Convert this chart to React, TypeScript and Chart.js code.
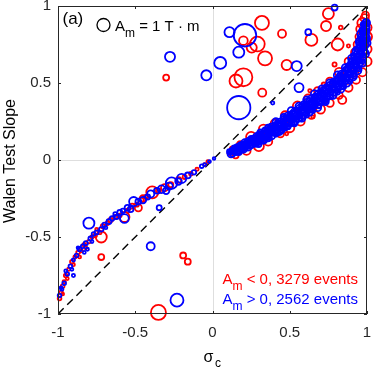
import React, { useEffect, useRef } from "react";
import { Chart, registerables } from "chart.js";
Chart.register(...registerables);

// axis ticks
const xTicks = [-1, -0.5, 0, 0.5, 1];
const yTicks = [-1, -0.5, 0, 0.5, 1];
const xTickLabels = ["-1", "-0.5", "0", "0.5", "1"];
const yTickLabels = ["-1", "-0.5", "0", "0.5", "1"];

// [sigma_c, Walen slope, |A_m| (T·m)] — A_m < 0 events (red)
const redOutliers = [
  [0.32, 0.89, 1.16], [0.45, 0.82, 0.38], [0.2, 0.775, 0.45], [0.254, 0.73, 0.6],
  [0.29, 0.753, 1.3], [0.34, 0.66, 1.16], [0.48, 0.617, 0.6], [0.2, 0.537, 1.9],
  [0.152, 0.513, 1.0], [0.322, 0.437, 0.38], [0.75, 0.95, 0.72], [0.735, 0.87, 0.6],
  [0.64, 0.78, 0.85], [0.81, 0.75, 0.85], [0.84, 0.39, 0.38], [0.83, 0.86, 0.08],
  [0.88, 0.74, 0.06], [0.63, 0.45, 0.06], [0.48, 0.17, 0.06], [0.65, 0.28, 0.06],
  [-0.3, 0.535, 0.21], [-0.19, -0.62, 0.21], [-0.16, -0.66, 0.21], [-0.35, -0.99, 1.33],
  [-0.72, -0.5, 0.72], [-0.72, -0.63, 0.21],
];
const redNegBand = [
  [-0.99, -0.9, 0.08], [-0.98, -0.86, 0.08], [-0.97, -0.82, 0.08], [-0.96, -0.79, 0.06],
  [-0.95, -0.75, 0.08], [-0.93, -0.71, 0.06], [-0.91, -0.66, 0.08], [-0.89, -0.63, 0.06],
  [-0.87, -0.6, 0.08], [-0.85, -0.59, 0.06], [-0.83, -0.55, 0.08], [-0.8, -0.53, 0.08],
  [-0.78, -0.5, 0.06], [-0.76, -0.49, 0.08], [-0.73, -0.47, 0.08], [-0.71, -0.43, 0.1],
  [-0.68, -0.41, 0.08], [-0.66, -0.39, 0.12], [-0.63, -0.37, 0.1], [-0.6, -0.36, 0.08],
  [-0.57, -0.37, 0.6], [-0.55, -0.33, 0.1], [-0.52, -0.3, 0.15], [-0.49, -0.29, 0.1],
  [-0.48, -0.31, 0.3], [-0.46, -0.26, 0.12], [-0.45, -0.25, 0.25], [-0.43, -0.24, 0.1],
  [-0.39, -0.21, 0.85], [-0.35, -0.2, 0.15], [-0.31, -0.18, 0.3], [-0.27, -0.16, 0.15],
  [-0.22, -0.13, 0.2], [-0.18, -0.11, 0.1], [-0.14, -0.09, 0.08], [-0.1, -0.06, 0.06],
  [-0.05, -0.03, 0.05], [-0.03, -0.01, 0.05], [-0.97, -0.87, 0.05], [-0.94, -0.77, 0.05],
  [-0.9, -0.68, 0.05], [-0.86, -0.63, 0.05], [-0.82, -0.57, 0.05], [-0.75, -0.45, 0.05],
];
const redPosBand = [
  [0.11, 0.044, 0.08], [0.13, 0.07, 0.2], [0.18, 0.1, 0.3], [0.25, 0.15, 0.6],
  [0.33, 0.2, 0.5], [0.4, 0.24, 0.3], [0.47, 0.29, 0.4], [0.55, 0.35, 0.5],
  [0.62, 0.4, 0.4], [0.68, 0.45, 0.3], [0.72, 0.49, 0.1], [0.76, 0.51, 0.35],
  [0.79, 0.62, 0.1], [0.82, 0.57, 0.45], [0.88, 0.64, 0.35], [0.92, 0.7, 0.3],
  [0.94, 0.75, 0.4], [0.95, 0.8, 0.35], [0.96, 0.85, 0.5], [0.97, 0.89, 0.6],
  [0.985, 0.92, 0.4], [0.99, 0.94, 0.3],
  [0.15, 0.03, 0.2], [0.22, 0.06, 0.4], [0.3, 0.09, 0.6], [0.36, 0.12, 0.4],
  [0.44, 0.17, 0.3], [0.5, 0.21, 0.5], [0.57, 0.25, 0.4], [0.64, 0.29, 0.3],
  [0.7, 0.33, 0.45], [0.76, 0.37, 0.35], [0.82, 0.42, 0.3], [0.88, 0.47, 0.4],
  [0.93, 0.52, 0.35], [0.97, 0.57, 0.4], [1.0, 0.64, 0.5], [1.0, 0.72, 0.5],
  [1.0, 0.8, 0.6], [1.0, 0.86, 0.5],
  [0.2, 0.08, 0.3], [0.35, 0.17, 0.4], [0.5, 0.27, 0.5], [0.65, 0.37, 0.5],
  [0.8, 0.48, 0.5], [0.92, 0.62, 0.5], [0.98, 0.76, 0.5],
];

// A_m > 0 events (blue)
const blueOutliers = [
  [0.21, 0.81, 3.0], [0.11, 0.83, 0.6], [0.17, 0.7, 0.72], [0.05, 0.63, 0.85],
  [-0.04, 0.55, 0.6], [0.17, 0.34, 3.2], [0.545, 0.61, 0.6], [0.56, 0.47, 0.48],
  [0.62, 0.83, 0.21], [0.79, 0.99, 0.21], [-0.275, 0.67, 0.6], [0.39, 0.37, 0.06],
  [-0.345, -0.31, 0.15], [-0.4, -0.56, 0.38], [-0.23, -0.91, 1.0], [-0.8, -0.41, 0.72],
];
const blueNegBand = [
  [-0.99, -0.88, 0.08], [-0.975, -0.84, 0.06], [-0.96, -0.8, 0.08], [-0.94, -0.74, 0.08],
  [-0.92, -0.69, 0.08], [-0.9, -0.75, 0.06], [-0.9, -0.65, 0.06], [-0.88, -0.62, 0.08],
  [-0.86, -0.58, 0.1], [-0.84, -0.56, 0.08], [-0.82, -0.54, 0.1], [-0.81, -0.58, 0.06],
  [-0.79, -0.51, 0.1], [-0.77, -0.48, 0.08], [-0.75, -0.47, 0.1], [-0.72, -0.45, 0.12],
  [-0.7, -0.42, 0.1], [-0.67, -0.4, 0.15], [-0.65, -0.38, 0.12], [-0.62, -0.37, 0.1],
  [-0.6, -0.34, 0.15], [-0.57, -0.38, 0.45], [-0.58, -0.33, 0.12], [-0.55, -0.31, 0.2],
  [-0.53, -0.32, 0.2], [-0.51, -0.27, 0.5], [-0.48, -0.27, 0.2], [-0.45, -0.26, 0.25],
  [-0.42, -0.24, 0.15], [-0.4, -0.22, 0.3], [-0.36, -0.2, 0.2], [-0.33, -0.19, 0.35],
  [-0.3, -0.2, 0.25], [-0.28, -0.17, 0.3], [-0.265, -0.15, 0.77], [-0.22, -0.14, 0.25],
  [-0.2, -0.12, 0.5], [-0.16, -0.1, 0.2], [-0.12, -0.08, 0.12], [-0.07, -0.04, 0.08],
  [-0.05, -0.03, 0.06], [-0.02, -0.01, 0.05], [0.01, 0.01, 0.04], [-0.98, -0.83, 0.05],
  [-0.95, -0.72, 0.05], [-0.91, -0.71, 0.05], [-0.87, -0.57, 0.05], [-0.83, -0.6, 0.05],
  [-0.78, -0.53, 0.05], [-0.69, -0.44, 0.05], [-0.63, -0.35, 0.08],
];
const bluePosBand = [
  [0.11, 0.054, 0.15], [0.12, 0.04, 0.3], [0.13, 0.06, 0.25], [0.15, 0.06, 0.4],
  [0.16, 0.08, 0.3], [0.17, 0.05, 0.2], [0.19, 0.09, 0.45], [0.2, 0.07, 0.3],
  [0.21, 0.11, 0.35], [0.23, 0.09, 0.45], [0.24, 0.12, 0.4], [0.25, 0.1, 0.3],
  [0.27, 0.13, 0.5], [0.28, 0.11, 0.35], [0.29, 0.15, 0.4], [0.3, 0.13, 0.5],
  [0.32, 0.16, 0.45], [0.33, 0.13, 0.35], [0.34, 0.18, 0.4], [0.35, 0.16, 0.5],
  [0.37, 0.19, 0.45], [0.38, 0.16, 0.4], [0.39, 0.21, 0.5], [0.4, 0.19, 0.55],
  [0.42, 0.22, 0.5], [0.43, 0.19, 0.45], [0.44, 0.24, 0.5], [0.45, 0.22, 0.55],
  [0.47, 0.26, 0.5], [0.48, 0.23, 0.5], [0.49, 0.28, 0.5], [0.5, 0.25, 0.6],
  [0.52, 0.29, 0.55], [0.53, 0.26, 0.5], [0.54, 0.31, 0.55], [0.55, 0.28, 0.6],
  [0.57, 0.33, 0.55], [0.58, 0.3, 0.6], [0.59, 0.35, 0.5], [0.6, 0.32, 0.6],
  [0.62, 0.37, 0.55], [0.63, 0.34, 0.6], [0.64, 0.39, 0.5], [0.65, 0.36, 0.6],
  [0.67, 0.4, 0.6], [0.68, 0.37, 0.55], [0.69, 0.42, 0.55], [0.7, 0.39, 0.6],
  [0.72, 0.44, 0.6], [0.73, 0.41, 0.55], [0.74, 0.46, 0.55], [0.75, 0.43, 0.6],
  [0.77, 0.48, 0.6], [0.78, 0.45, 0.6], [0.79, 0.5, 0.55], [0.8, 0.47, 0.6],
  [0.82, 0.52, 0.6], [0.83, 0.49, 0.6], [0.84, 0.55, 0.55], [0.85, 0.52, 0.6],
  [0.87, 0.57, 0.6], [0.88, 0.54, 0.6], [0.89, 0.6, 0.55], [0.9, 0.57, 0.6],
  [0.91, 0.63, 0.6], [0.92, 0.6, 0.6], [0.93, 0.66, 0.55], [0.94, 0.63, 0.6],
  [0.95, 0.7, 0.55], [0.96, 0.67, 0.6], [0.96, 0.74, 0.5], [0.97, 0.71, 0.6],
  [0.975, 0.78, 0.5], [0.98, 0.75, 0.55], [0.985, 0.82, 0.45], [0.99, 0.79, 0.5],
  [0.99, 0.86, 0.4], [0.995, 0.89, 0.35], [0.97, 0.84, 0.2], [0.98, 0.88, 0.2],
  [0.25, 0.14, 0.15], [0.31, 0.18, 0.2], [0.36, 0.21, 0.2], [0.41, 0.25, 0.25],
  [0.46, 0.28, 0.2], [0.51, 0.32, 0.3], [0.56, 0.35, 0.3], [0.61, 0.39, 0.3],
  [0.66, 0.43, 0.3], [0.71, 0.46, 0.35], [0.76, 0.5, 0.3], [0.81, 0.55, 0.35],
  [0.86, 0.6, 0.3], [0.9, 0.66, 0.3], [0.93, 0.71, 0.3], [0.95, 0.77, 0.3],
  [0.96, 0.82, 0.3],
  [0.3, 0.1, 0.15], [0.36, 0.14, 0.2], [0.42, 0.18, 0.2], [0.47, 0.21, 0.2],
  [0.53, 0.24, 0.25], [0.58, 0.27, 0.25], [0.63, 0.31, 0.25], [0.68, 0.34, 0.3],
  [0.73, 0.38, 0.3], [0.78, 0.42, 0.3], [0.83, 0.46, 0.3], [0.87, 0.5, 0.3],
  [0.91, 0.54, 0.3], [0.94, 0.58, 0.3], [0.97, 0.63, 0.3], [0.99, 0.69, 0.3],
  [1.0, 0.76, 0.3],
];
// dense small-|A_m| events filling the core of the positive branch
const coreAm = 0.12;
const blueCoreMid = [
  [0.12, 0.05], [0.14, 0.06], [0.16, 0.07], [0.18, 0.08], [0.2, 0.09], [0.22, 0.1],
  [0.24, 0.11], [0.26, 0.12], [0.28, 0.13], [0.3, 0.14], [0.32, 0.152], [0.34, 0.164],
  [0.36, 0.176], [0.38, 0.188], [0.4, 0.2], [0.42, 0.212], [0.44, 0.224], [0.46, 0.236],
  [0.48, 0.25], [0.5, 0.264], [0.52, 0.278], [0.54, 0.292], [0.56, 0.306], [0.58, 0.32],
  [0.6, 0.334], [0.62, 0.348], [0.64, 0.362], [0.66, 0.376], [0.68, 0.39], [0.7, 0.404],
  [0.72, 0.42], [0.74, 0.436], [0.76, 0.452], [0.78, 0.468], [0.8, 0.486], [0.82, 0.505],
  [0.84, 0.525], [0.86, 0.545], [0.88, 0.568], [0.9, 0.592], [0.92, 0.62], [0.94, 0.655],
  [0.96, 0.7], [0.97, 0.735], [0.98, 0.77], [0.99, 0.83], [1.0, 0.89],
];
const blueCoreUp = [
  [0.14, 0.08], [0.18, 0.1], [0.22, 0.12], [0.26, 0.14], [0.3, 0.17], [0.34, 0.197],
  [0.38, 0.222], [0.42, 0.246], [0.46, 0.27], [0.5, 0.298], [0.54, 0.326], [0.58, 0.355],
  [0.62, 0.383], [0.66, 0.411], [0.7, 0.445], [0.74, 0.478], [0.78, 0.51], [0.82, 0.548],
  [0.86, 0.59], [0.88, 0.615], [0.9, 0.645], [0.91, 0.68], [0.93, 0.72], [0.945, 0.76],
  [0.955, 0.8], [0.965, 0.84], [0.975, 0.88],
];
const blueCoreLow = [
  [0.13, 0.035], [0.17, 0.055], [0.21, 0.075], [0.25, 0.095], [0.29, 0.11], [0.33, 0.125],
  [0.37, 0.145], [0.41, 0.166], [0.45, 0.19], [0.49, 0.215], [0.53, 0.24], [0.57, 0.265],
  [0.61, 0.29], [0.65, 0.32], [0.69, 0.35], [0.73, 0.38], [0.77, 0.41], [0.81, 0.44],
  [0.85, 0.475], [0.89, 0.51], [0.92, 0.545], [0.95, 0.59], [0.97, 0.64], [0.99, 0.7],
  [1.0, 0.78], [1.0, 0.84],
];
const blueCoreMidUp = [
  [0.13, 0.065], [0.15, 0.078], [0.17, 0.088], [0.19, 0.098], [0.21, 0.108], [0.23, 0.118],
  [0.25, 0.13], [0.27, 0.14], [0.29, 0.15], [0.31, 0.163], [0.33, 0.176], [0.35, 0.188],
  [0.37, 0.2], [0.39, 0.212], [0.41, 0.224], [0.43, 0.236], [0.45, 0.248], [0.47, 0.261],
  [0.49, 0.275], [0.51, 0.289], [0.53, 0.303], [0.55, 0.317], [0.57, 0.331], [0.59, 0.345],
  [0.61, 0.359], [0.63, 0.373], [0.65, 0.389], [0.67, 0.403], [0.69, 0.417], [0.71, 0.434],
  [0.73, 0.45], [0.75, 0.466], [0.77, 0.483], [0.79, 0.5], [0.81, 0.52], [0.83, 0.54],
  [0.85, 0.56], [0.87, 0.583], [0.89, 0.608], [0.91, 0.636], [0.93, 0.67], [0.94, 0.715],
  [0.95, 0.74], [0.96, 0.78], [0.97, 0.82], [0.98, 0.86], [0.99, 0.9],
];
const blueCoreMidLow = [
  [0.15, 0.047], [0.17, 0.057], [0.19, 0.067], [0.21, 0.077], [0.23, 0.087], [0.25, 0.097],
  [0.27, 0.107], [0.29, 0.117], [0.31, 0.128], [0.33, 0.14], [0.35, 0.152], [0.37, 0.164],
  [0.39, 0.176], [0.41, 0.188], [0.43, 0.2], [0.45, 0.212], [0.47, 0.225], [0.49, 0.239],
  [0.51, 0.253], [0.53, 0.267], [0.55, 0.281], [0.57, 0.295], [0.59, 0.309], [0.61, 0.323],
  [0.63, 0.337], [0.65, 0.351], [0.67, 0.365], [0.69, 0.379], [0.71, 0.394], [0.73, 0.41],
  [0.75, 0.426], [0.77, 0.442], [0.79, 0.459], [0.81, 0.477], [0.83, 0.495], [0.85, 0.513],
  [0.87, 0.533], [0.89, 0.555], [0.91, 0.58], [0.93, 0.607], [0.95, 0.64], [0.965, 0.68],
  [0.975, 0.72], [0.985, 0.76], [0.995, 0.8], [1.0, 0.86],
];

const diagonal = [[-1, -1], [1, 1]];
const referenceAm = 1; // legend marker: A_m = 1 T·m

const RED = "#ff0000";
const BLUE = "#0000ff";
const TXT = "#262626";
const FONT = "'Liberation Sans', Arial, Helvetica, sans-serif";
const R_UNIT = 6.5;

const toPts = (arr: number[][]) => arr.map(([x, y, am]) => ({ x, y, am }));
const corePts = (arr: number[][]) => arr.map(([x, y]) => ({ x, y, am: coreAm }));
const radiusOf = (am: number) => Math.max(1, R_UNIT * Math.sqrt(Math.abs(am)));

function drawSub(ctx: CanvasRenderingContext2D, x: number, y: number, main: string, sub: string, rest: string, color: string) {
  ctx.fillStyle = color;
  ctx.textAlign = "left";
  ctx.textBaseline = "alphabetic";
  ctx.font = `15px ${FONT}`;
  ctx.fillText(main, x, y);
  let cx = x + ctx.measureText(main).width;
  ctx.font = `12px ${FONT}`;
  ctx.fillText(sub, cx, y + 6);
  cx += ctx.measureText(sub).width;
  ctx.font = `15px ${FONT}`;
  ctx.fillText(rest, cx, y);
}

const decor = {
  id: "decor",
  beforeDatasetsDraw(chart: any) {
    const { ctx, chartArea: a, scales } = chart;
    const x0 = Math.round(scales.x.getPixelForValue(0)) + 0.5;
    const y0 = Math.round(scales.y.getPixelForValue(0)) + 0.5;
    ctx.save();
    ctx.strokeStyle = "#dedede";
    ctx.lineWidth = 1;
    ctx.beginPath();
    ctx.moveTo(x0, a.top);
    ctx.lineTo(x0, a.bottom);
    ctx.moveTo(a.left, y0);
    ctx.lineTo(a.right, y0);
    ctx.stroke();
    ctx.restore();
  },
  afterDatasetsDraw(chart: any) {
    const { ctx, chartArea: a, scales } = chart;
    ctx.save();
    ctx.strokeStyle = TXT;
    ctx.lineWidth = 1;
    ctx.strokeRect(Math.round(a.left) + 0.5, Math.round(a.top) + 0.5, Math.round(a.right - a.left) - 1, Math.round(a.bottom - a.top) - 1);
    const tl = 3;
    ctx.beginPath();
    xTicks.forEach((v) => {
      const px = Math.round(scales.x.getPixelForValue(v)) + 0.5;
      ctx.moveTo(px, a.bottom);
      ctx.lineTo(px, a.bottom - tl);
      ctx.moveTo(px, a.top);
      ctx.lineTo(px, a.top + tl);
    });
    yTicks.forEach((v) => {
      const py = Math.round(scales.y.getPixelForValue(v)) + 0.5;
      ctx.moveTo(a.left, py);
      ctx.lineTo(a.left + tl, py);
      ctx.moveTo(a.right, py);
      ctx.lineTo(a.right - tl, py);
    });
    ctx.stroke();

    ctx.fillStyle = "#000";
    ctx.font = `17px ${FONT}`;
    ctx.textAlign = "left";
    ctx.textBaseline = "alphabetic";
    ctx.fillText("(a)", a.left + 4.5, a.top + 18);

    ctx.strokeStyle = "#000";
    ctx.lineWidth = 1.3;
    ctx.beginPath();
    ctx.arc(a.left + 45.5, a.top + 19, radiusOf(referenceAm), 0, Math.PI * 2);
    ctx.stroke();
    drawSub(ctx, a.left + 57, a.top + 25, "A", "m", " = 1 T · m", "#000");

    drawSub(ctx, a.left + 164.5, a.top + 277.5, "A", "m", " < 0, 3279 events", RED);
    drawSub(ctx, a.left + 164.5, a.top + 297.5, "A", "m", " > 0, 2562 events", BLUE);

    ctx.fillStyle = "#000";
    ctx.font = `16px ${FONT}`;
    ctx.textAlign = "left";
    const cx = (a.left + a.right) / 2;
    ctx.fillText("σ", cx - 9, 361.5);
    ctx.font = `12px ${FONT}`;
    ctx.fillText("c", cx + 2.5, 366.5);

    ctx.save();
    ctx.translate(15, (a.top + a.bottom) / 2 + 1);
    ctx.rotate(-Math.PI / 2);
    ctx.font = `16px ${FONT}`;
    ctx.textAlign = "center";
    ctx.fillText("Walen Test Slope", 0, 0);
    ctx.restore();

    ctx.restore();
  },
};

export default function App() {
  const ref = useRef<HTMLCanvasElement | null>(null);
  useEffect(() => {
    if (!ref.current) return;
    const pointOpts = (color: string, order: number, data: any[]) => ({
      type: "scatter" as const,
      data,
      order,
      clip: false as any,
      showLine: false,
      borderColor: color,
      backgroundColor: "transparent",
      pointBorderColor: color,
      pointBackgroundColor: "transparent",
      pointBorderWidth: 1.8,
      pointRadius: (c: any) => radiusOf(c.raw ? c.raw.am : 0.1),
      pointHoverRadius: (c: any) => radiusOf(c.raw ? c.raw.am : 0.1),
    });
    const chart = new Chart(ref.current, {
      type: "scatter",
      data: {
        datasets: [
          pointOpts(BLUE, 0, [
            ...corePts(blueCoreMid), ...corePts(blueCoreUp), ...corePts(blueCoreLow),
            ...corePts(blueCoreMidUp), ...corePts(blueCoreMidLow),
            ...toPts(bluePosBand), ...toPts(blueNegBand), ...toPts(blueOutliers),
          ]),
          pointOpts(RED, 1, [...toPts(redPosBand), ...toPts(redNegBand), ...toPts(redOutliers)]),
          {
            type: "line" as const,
            data: diagonal.map(([x, y]) => ({ x, y })),
            order: 2,
            borderColor: "#000",
            borderWidth: 1.4,
            borderDash: [8, 5],
            pointRadius: 0,
            fill: false,
          } as any,
        ],
      },
      options: {
        animation: false,
        responsive: false,
        maintainAspectRatio: false,
        events: [],
        layout: { autoPadding: false, padding: { top: 6, right: 7, left: 0, bottom: 0 } },
        plugins: { legend: { display: false }, tooltip: { enabled: false } },
        scales: {
          x: {
            type: "linear",
            min: -1,
            max: 1,
            afterFit: (s: any) => { s.height = 57; s.paddingLeft = 0; s.paddingRight = 0; },
            afterBuildTicks: (s: any) => { s.ticks = xTicks.map((v) => ({ value: v })); },
            grid: { display: false, drawTicks: false },
            border: { display: false },
            ticks: {
              padding: 10,
              color: TXT,
              font: { family: FONT, size: 15 },
              maxRotation: 0,
              autoSkip: false,
              callback: (v: any) => xTickLabels[xTicks.indexOf(Number(v))] ?? String(v),
            },
          },
          y: {
            type: "linear",
            min: -1,
            max: 1,
            afterFit: (s: any) => { s.width = 58; s.paddingTop = 0; s.paddingBottom = 0; },
            afterBuildTicks: (s: any) => { s.ticks = yTicks.map((v) => ({ value: v })); },
            grid: { display: false, drawTicks: false },
            border: { display: false },
            ticks: {
              padding: 7,
              color: TXT,
              font: { family: FONT, size: 15 },
              autoSkip: false,
              callback: (v: any) => yTickLabels[yTicks.indexOf(Number(v))] ?? String(v),
            },
          },
        },
      },
      plugins: [decor],
    });
    return () => chart.destroy();
  }, []);
  return (
    <div style={{ position: "absolute", left: 0, top: 0, width: 374, height: 371, background: "#fff" }}>
      <canvas ref={ref} width={374} height={371} style={{ display: "block" }} />
    </div>
  );
}
